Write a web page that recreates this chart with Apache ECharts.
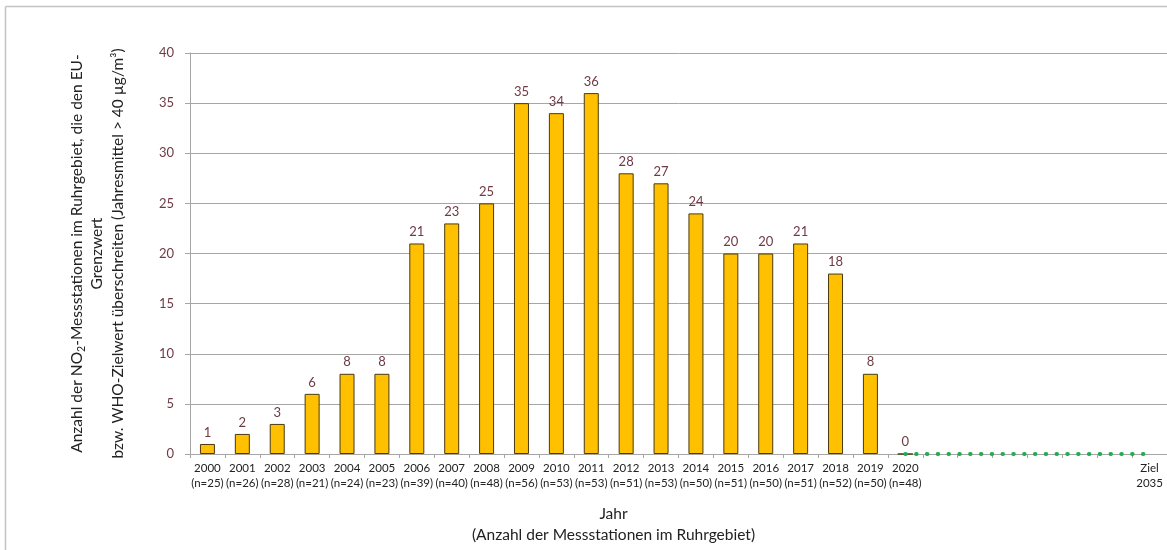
<!DOCTYPE html>
<html>
<head>
<meta charset="utf-8">
<script src="https://cdn.jsdelivr.net/npm/echarts@6/dist/echarts.min.js"></script>
<style>
html,body{margin:0;padding:0;background:#fff;overflow:hidden;}
#chart{width:1167px;height:550px;}
</style>
</head>
<body>
<div id="chart"></div>
<script>
const years = ['2000','2001','2002','2003','2004','2005','2006','2007','2008','2009','2010','2011','2012','2013','2014','2015','2016','2017','2018','2019','2020','','','','','','','Ziel'];
const stationCounts = ['n=25','n=26','n=28','n=21','n=24','n=23','n=39','n=40','n=48','n=56','n=53','n=53','n=51','n=53','n=50','n=51','n=50','n=51','n=52','n=50','n=48','','','','','','','2035'];
const exceedances = [1,2,3,6,8,8,21,23,25,35,34,36,28,27,24,20,20,21,18,8,0,null,null,null,null,null,null,null];
const targetLine = [null,null,null,null,null,null,null,null,null,null,null,null,null,null,null,null,null,null,null,null,0,0,0,0,0,0,0,0];
const yTicks = [0,5,10,15,20,25,30,35,40];

const font = 'Lato, "Open Sans", sans-serif';
const categories = years.map((y, i) => {
  if (!y) return '';
  if (y === 'Ziel') return 'Ziel\n' + stationCounts[i];
  return y + '\n(' + stationCounts[i] + ')';
});

const chart = echarts.init(document.getElementById('chart'));
chart.setOption({
  backgroundColor: '#fff',
  animation: false,
  graphic: [
    { type: 'line', shape: { x1: 5.5, y1: 6.5, x2: 5.5, y2: 560 }, style: { stroke: '#c4c4c4', lineWidth: 1.5 }, silent: true },
    { type: 'line', shape: { x1: 5.5, y1: 6.5, x2: 1167, y2: 6.5 }, style: { stroke: '#c4c4c4', lineWidth: 1.5 }, silent: true }
  ],
  grid: { left: 190, top: 53, width: 980, bottom: 94, containLabel: false },
  xAxis: {
    type: 'category',
    data: categories,
    axisLine: { lineStyle: { color: '#a6a6a6', width: 1 } },
    axisTick: { show: true, alignWithLabel: false, lineStyle: { color: '#a6a6a6' }, length: 4 },
    axisLabel: { color: '#222', fontFamily: font, fontSize: 11.5, lineHeight: 15, margin: 7, interval: 0 },
    name: 'Jahr\n(Anzahl der Messstationen im Ruhrgebiet)',
    nameLocation: 'middle',
    nameGap: 49,
    nameTextStyle: { color: '#222', fontFamily: font, fontSize: 15.5, lineHeight: 21, padding: [0, 0, 0, -130] }
  },
  yAxis: {
    type: 'value',
    min: yTicks[0],
    max: yTicks[yTicks.length - 1],
    interval: 5,
    axisLine: { show: true, lineStyle: { color: '#a6a6a6' } },
    axisTick: { show: true, length: 5, lineStyle: { color: '#a6a6a6' } },
    splitLine: { lineStyle: { color: '#a6a6a6', width: 1 } },
    axisLabel: { color: '#6e3a44', fontFamily: font, fontSize: 13, margin: 16 },
    name: '{n|Anzahl der NO}{s|2}{n|-Messstationen im Ruhrgebiet, die den EU-}\n{n|Grenzwert}\n{n|bzw. WHO-Zielwert überschreiten (Jahresmittel > 40 µg/m³)}',
    nameLocation: 'middle',
    nameRotate: 90,
    nameGap: 62,
    nameTextStyle: {
      color: '#222', fontFamily: font, fontSize: 15.5, lineHeight: 20.5,
      rich: {
        n: { fontFamily: font, fontSize: 15.5, color: '#222', lineHeight: 20.5 },
        s: { fontFamily: font, fontSize: 10.5, color: '#222', verticalAlign: 'bottom', padding: [5, 0, 0, 0], lineHeight: 20.5 }
      }
    }
  },
  series: [
    {
      type: 'bar',
      data: exceedances,
      barWidth: 15,
      itemStyle: { color: '#FFC000', borderColor: '#4a3a10', borderWidth: 1 },
      label: {
        show: true, position: 'top', distance: 5,
        color: '#6e3a44', fontFamily: font, fontSize: 13
      }
    },
    {
      type: 'line',
      data: targetLine,
      symbol: 'none',
      z: 5,
      lineStyle: { color: '#1fae4f', width: 4, type: [0.5, 10.3], cap: 'round' }
    }
  ]
});
</script>
</body>
</html>
